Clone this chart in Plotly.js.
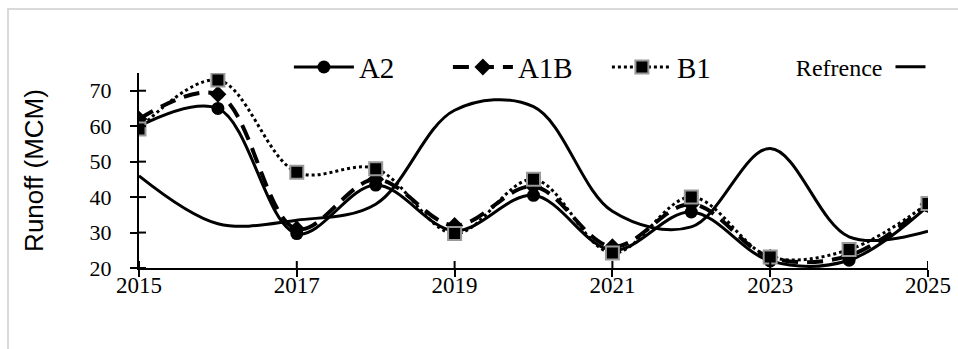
<!DOCTYPE html>
<html>
<head>
<meta charset="utf-8">
<script src="https://cdn.plot.ly/plotly-3.0.1.min.js"></script>
<style>
  html, body { margin: 0; padding: 0; background: #fff; }
  #frame { position: absolute; left: 7px; top: 8px; width: 951px; height: 341px;
           border-left: 2px solid #d9d9d9; border-top: 2px solid #d9d9d9; box-sizing: border-box; }
  #chart { position: absolute; left: 0; top: 0; width: 958px; height: 349px; }
</style>
</head>
<body>
<div id="frame"></div>
<div id="chart"></div>
<script>
const years = [2015, 2016, 2017, 2018, 2019, 2020, 2021, 2022, 2023, 2024, 2025];
const a2   = [60, 65, 29.7, 43.4, 30.5, 40.5, 25, 35.8, 22, 22.2, 37.5];
const a1b  = [62, 69, 31, 45, 32, 43, 26, 38, 23, 23.5, 38];
const b1   = [59.2, 73, 47, 48, 29.7, 45, 24.2, 40, 23.1, 25.2, 38.2];
const refr = [46, 32.5, 33.5, 38, 64.5, 65.5, 36, 31.6, 53.7, 28.8, 30.4];
const xTicks = [2015, 2017, 2019, 2021, 2023, 2025];
const yTicks = [20, 30, 40, 50, 60, 70];
const xRange = [2015, 2025];
const yRange = [20, 75];

const serif = "Liberation Serif";

const traces = [
  { x: years, y: refr, name: " ", legend: "legend2", mode: "lines",
    line: { color: "#000", width: 3, shape: "spline" } },
  { x: years, y: a2, name: "A2", mode: "lines+markers",
    line: { color: "#000", width: 3, shape: "spline" },
    marker: { symbol: "circle", size: 13, color: "#000" } },
  { x: years, y: a1b, name: "A1B", mode: "lines+markers",
    line: { color: "#000", width: 4, shape: "spline", dash: "16px,9px" },
    marker: { symbol: "diamond", size: 13, color: "#000" } },
  { x: years, y: b1, name: "B1", mode: "lines+markers",
    line: { color: "#000", width: 3, shape: "spline", dash: "dot" },
    marker: { symbol: "square", size: 13, color: "#000", line: { color: "#999", width: 2 } } }
];

// inner halves of the crossing tick marks (outer halves come from the axes)
const tickShapes = [];
xTicks.forEach(t => tickShapes.push({
  type: "line", xref: "x", yref: "y", ysizemode: "pixel", yanchor: yRange[0],
  x0: t, x1: t, y0: 0, y1: 7, line: { color: "#000", width: 2 }
}));
yTicks.forEach(t => tickShapes.push({
  type: "line", xref: "x", yref: "y", xsizemode: "pixel", xanchor: xRange[0],
  x0: 0, x1: 7, y0: t, y1: t, line: { color: "#000", width: 2 }
}));

const layout = {
  width: 958, height: 349,
  margin: { l: 139, r: 30, t: 73, b: 81 },
  paper_bgcolor: "rgba(0,0,0,0)", plot_bgcolor: "rgba(0,0,0,0)",
  showlegend: true,
  shapes: tickShapes,
  xaxis: {
    range: xRange, tickvals: xTicks, ticktext: xTicks.map(String),
    showgrid: false, zeroline: false, showline: true, linecolor: "#000", linewidth: 2,
    ticks: "outside", ticklen: 7, tickwidth: 2, tickcolor: "#000",
    ticklabelstandoff: -12,
    tickfont: { family: serif, size: 23, color: "#000" }
  },
  yaxis: {
    range: yRange, tickvals: yTicks, ticktext: yTicks.map(String),
    showgrid: false, zeroline: false, showline: true, linecolor: "#000", linewidth: 2,
    ticks: "outside", ticklen: 7, tickwidth: 2, tickcolor: "#000",
    ticklabelstandoff: 14,
    tickfont: { family: serif, size: 22, color: "#000" },
    title: { text: "Runoff (MCM)", standoff: 38,
             font: { family: "Liberation Sans", size: 26, color: "#000" } }
  },
  legend: {
    orientation: "h", x: 0.19, xanchor: "left", y: 1.03, yanchor: "middle",
    font: { family: serif, size: 29, color: "#000" },
    bgcolor: "rgba(0,0,0,0)", entrywidth: 84, entrywidthmode: "pixels",
    itemwidth: 60, traceorder: "normal"
  },
  legend2: {
    orientation: "h", x: 0.83, xanchor: "left", y: 1.03, yanchor: "middle",
    font: { family: serif, size: 24, color: "#000" },
    bgcolor: "rgba(0,0,0,0)",
    title: { text: "Refrence", side: "left", font: { family: serif, size: 24, color: "#000" } }
  }
};

Plotly.newPlot("chart", traces, layout, { displayModeBar: false, staticPlot: true });
</script>
</body>
</html>
